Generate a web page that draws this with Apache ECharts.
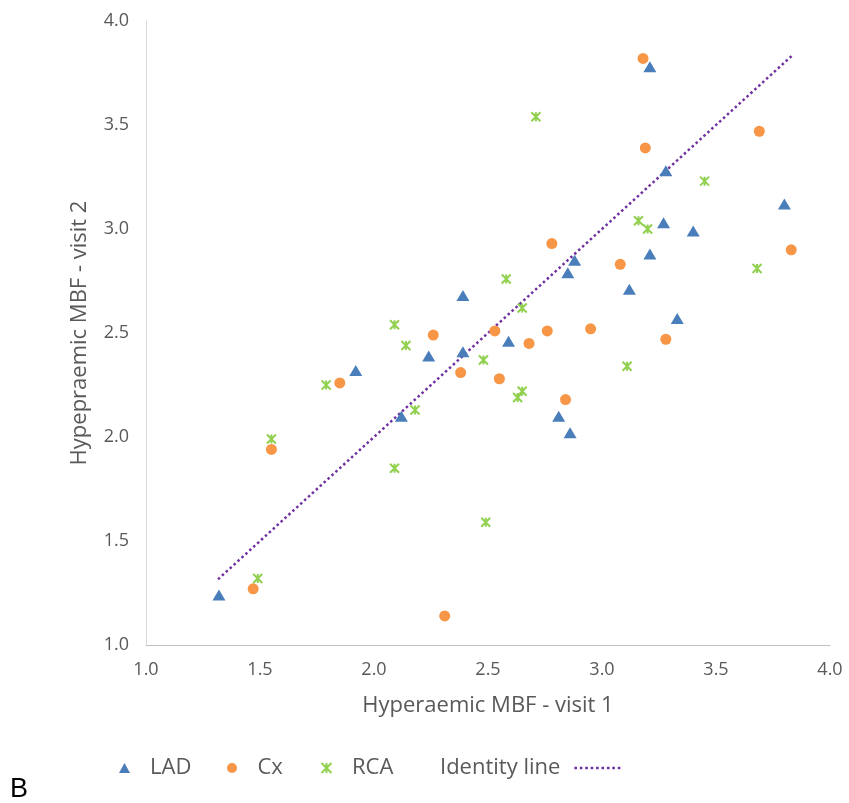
<!DOCTYPE html>
<html>
<head>
<meta charset="utf-8">
<script src="https://cdn.jsdelivr.net/npm/echarts@6/dist/echarts.min.js"></script>
<style>
html,body{margin:0;padding:0;background:#fff;}
#chart{width:849px;height:803px;}
</style>
</head>
<body>
<div id="chart"></div>
<script>
// ---- data ----
var ladX = [1.32,1.92,2.12,2.24,2.39,2.39,2.59,2.81,2.86,2.85,2.88,3.12,3.21,3.21,3.27,3.28,3.33,3.40,3.80];
var ladY = [1.24,2.32,2.10,2.39,2.41,2.68,2.46,2.10,2.02,2.79,2.85,2.71,2.88,3.78,3.03,3.28,2.57,2.99,3.12];

var cxX = [1.47,1.55,1.85,2.26,2.38,2.31,2.53,2.68,2.76,2.95,3.28,2.55,2.84,3.18,3.19,3.69,2.78,3.08,3.83];
var cxY = [1.27,1.94,2.26,2.49,2.31,1.14,2.51,2.45,2.51,2.52,2.47,2.28,2.18,3.82,3.39,3.47,2.93,2.83,2.90];

var rcaX = [2.09,2.14,1.79,2.48,2.18,1.55,2.09,2.49,1.49,3.11,2.63,2.65,2.71,3.45,3.16,3.20,3.68,2.58,2.65];
var rcaY = [2.54,2.44,2.25,2.37,2.13,1.99,1.85,1.59,1.32,2.34,2.19,2.22,3.54,3.23,3.04,3.00,2.81,2.76,2.62];

var identityX = [1.316, 3.833];
var identityY = [1.316, 3.833];

var seriesNames = ['LAD', 'Cx', 'RCA', 'Identity line'];
var xTickLabels = ['1.0','1.5','2.0','2.5','3.0','3.5','4.0'];
var yTickLabels = ['1.0','1.5','2.0','2.5','3.0','3.5','4.0'];
var xAxisTitle = 'Hyperaemic MBF - visit 1';
var yAxisTitle = 'Hypepraemic MBF - visit 2';
var panelLabel = 'B';

function zip(a, b) { return a.map(function (v, i) { return [v, b[i]]; }); }
function tickFmt(labels) {
  return function (v) { var i = Math.round((v - 1) / 0.5); return labels[i] !== undefined ? labels[i] : ''; };
}

var FONT = '"Open Sans", "DejaVu Sans", sans-serif';
var GREY = '#595959';
var STAR = 'path://M0,0L10,10M10,0L0,10M5,0L5,10';
// dotted-line legend glyph (9 dots)
var DOTS = 'path://' + [0,1,2,3,4,5,6,7,8].map(function (i) {
  var x = i * 5.4; return 'M' + x + ',0h2.6v2.6h-2.6z';
}).join('');

var legendText = {color: GREY, fontSize: 22, fontFamily: FONT};
function legendItem(name, icon, left) {
  return {
    data: [{name: name, icon: icon}],
    left: left, top: 752,
    itemWidth: 11, itemHeight: 10,
    textStyle: Object.assign({}, legendText, {padding: [0, 0, 0, 15]})
  };
}

var chart = echarts.init(document.getElementById('chart'), null, {renderer: 'canvas'});
chart.setOption({
  animation: false,
  backgroundColor: '#ffffff',
  textStyle: {fontFamily: FONT},
  grid: {left: 146, right: 19, top: 21, bottom: 158, containLabel: false},
  xAxis: {
    type: 'value', min: 1, max: 4, interval: 0.5,
    name: xAxisTitle, nameLocation: 'middle', nameGap: 50,
    nameTextStyle: {color: GREY, fontSize: 22, fontFamily: FONT},
    axisLine: {show: true, onZero: false, lineStyle: {color: '#BFBFBF', width: 1}},
    axisTick: {show: false},
    splitLine: {show: false},
    axisLabel: {color: GREY, fontSize: 18, margin: 16, fontFamily: FONT, formatter: tickFmt(xTickLabels)}
  },
  yAxis: {
    type: 'value', min: 1, max: 4, interval: 0.5,
    name: yAxisTitle, nameLocation: 'middle', nameGap: 55, nameRotate: 90,
    nameTextStyle: {color: GREY, fontSize: 22, fontFamily: FONT},
    axisLine: {show: true, onZero: false, lineStyle: {color: '#D9D9D9', width: 1}},
    axisTick: {show: false},
    splitLine: {show: false},
    axisLabel: {color: GREY, fontSize: 18, margin: 17, fontFamily: FONT, formatter: tickFmt(yTickLabels)}
  },
  legend: [
    legendItem(seriesNames[0], 'triangle', 114),
    legendItem(seriesNames[1], 'circle', 222),
    legendItem(seriesNames[2], STAR, 314),
    {
      data: [{name: seriesNames[3], icon: DOTS}],
      left: 435, top: 752,
      align: 'right',
      itemWidth: 46, itemHeight: 10,
      textStyle: Object.assign({}, legendText, {padding: [0, 9, 0, 0]})
    }
  ],
  graphic: [{
    type: 'text', left: 10, top: 776,
    style: {text: panelLabel, fontSize: 27, fill: '#000000', fontFamily: '"Liberation Sans", Arial, sans-serif'}
  }],
  series: [{
    name: seriesNames[0], type: 'scatter',
    data: zip(ladX, ladY),
    symbol: 'triangle', symbolSize: [13, 11],
    itemStyle: {color: '#4A7EBB', opacity: 1},
    z: 3
  }, {
    name: seriesNames[1], type: 'scatter',
    data: zip(cxX, cxY),
    symbol: 'circle', symbolSize: 11,
    itemStyle: {color: '#F79646', opacity: 1},
    z: 3
  }, {
    name: seriesNames[2], type: 'scatter',
    data: zip(rcaX, rcaY),
    symbol: STAR, symbolSize: 9,
    itemStyle: {color: 'none', borderColor: '#92D050', borderWidth: 2, opacity: 1},
    z: 3
  }, {
    name: seriesNames[3], type: 'line',
    data: zip(identityX, identityY),
    symbol: 'none', showSymbol: false,
    lineStyle: {color: '#7030A0', width: 2.5, type: [2.5, 2.8]},
    itemStyle: {color: '#7030A0'},
    z: 2
  }]
});
</script>
</body>
</html>
